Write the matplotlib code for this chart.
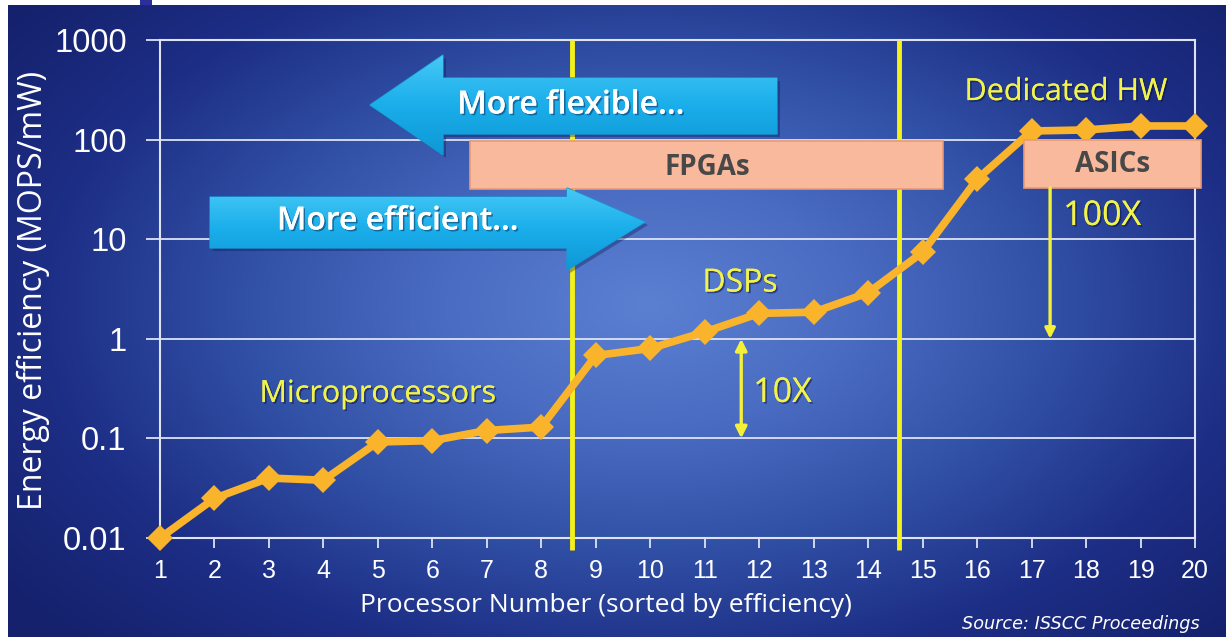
import numpy as np
import matplotlib
matplotlib.use("Agg")
import matplotlib.pyplot as plt
from matplotlib.patches import Polygon, Rectangle, FancyArrowPatch
from matplotlib.colors import LinearSegmentedColormap
import matplotlib.patheffects as pe

# ---- data -------------------------------------------------------------
processor_number = list(range(1, 21))
efficiency = [0.010, 0.025, 0.040, 0.038, 0.092, 0.095, 0.12, 0.13,
              0.68, 0.80, 1.17, 1.80, 1.85, 2.9, 7.4, 40, 122, 125, 137, 137]
y_ticks = [0.01, 0.1, 1, 10, 100, 1000]
y_tick_labels = ["0.01", "0.1", "1", "10", "100", "1000"]
class_boundaries = [8.56, 14.56]

W, H = 1226, 637
fig = plt.figure(figsize=(W / 100, H / 100), dpi=100, facecolor="white")

# ---- slide background: radial blue gradient ----------------------------
bg = fig.add_axes([8 / W, 0, 1 - 8 / W, 1 - 5 / H], zorder=0)
gx, gy = np.meshgrid(np.linspace(0, W - 8, 400), np.linspace(0, H - 5, 220))
r = np.sqrt(((gx - 640) / 700) ** 2 + ((gy - 300) / 420) ** 2)
bg_cmap = LinearSegmentedColormap.from_list(
    "slide", ["#5b80d2", "#4a6cc2", "#3151a6", "#1d2e86", "#15216c"])
bg.imshow(np.clip(r, 0, 1.15), cmap=bg_cmap, aspect="auto",
          extent=[0, 1, 0, 1], origin="upper", interpolation="bicubic")
bg.set_xlim(0, 1)
bg.set_ylim(0, 1)
bg.axis("off")

# ---- main chart --------------------------------------------------------
ax = fig.add_axes([160 / W, 1 - 538 / H, (1195 - 160) / W, (538 - 40) / H], zorder=2)
ax.set_facecolor("none")
ax.set_yscale("log")
ax.set_xlim(1, 20)
ax.set_ylim(0.01, 1000)

grid_col = "#dde3f3"
for v in y_ticks[1:-1]:
    ax.axhline(v, color=grid_col, lw=1.3, zorder=1)
for s in ax.spines.values():
    s.set_color(grid_col)
    s.set_linewidth(1.5)

ax.set_xticks(processor_number)
ax.set_xticklabels([str(p) for p in processor_number])
ax.set_yticks(y_ticks)
ax.set_yticklabels(y_tick_labels)
ax.minorticks_off()
ax.tick_params(axis="y", colors=grid_col, length=10, width=1.3, pad=14,
               labelsize=23.5, labelcolor="white")
ax.tick_params(axis="x", colors=grid_col, length=7, width=1.3, pad=8,
               labelsize=18, labelcolor="white")
for lab in ax.get_xticklabels() + ax.get_yticklabels():
    lab.set_fontfamily("Liberation Sans")

clear = "Open Sans"
ax.set_xlabel("Processor Number (sorted by efficiency)", family=clear,
              fontsize=19, color="white", va="center")
ax.xaxis.set_label_coords((606 - 160) / 1035, -(605 - 538) / 498)
ax.set_ylabel("Energy efficiency (MOPS/mW)", family=clear,
              fontsize=23, color="white", va="center")
ax.yaxis.set_label_coords((33 - 160) / 1035, (538 - 290) / 498)

# class boundaries
for xb in class_boundaries:
    ax.plot([xb, xb], [0.0076, 1000], color="#f4f01a", lw=3.5,
            zorder=3, clip_on=False, solid_capstyle="butt")

# efficiency curve
ax.plot(processor_number, efficiency, color="#f9b42b", lw=5.5,
        marker="D", markersize=13, markeredgewidth=0, zorder=5,
        clip_on=False)

# architecture boxes
box_fc, box_ec = "#f9b99c", "#e99a74"
ax.add_patch(Rectangle((6.69, 31.9), 15.37 - 6.69, 96.8 - 31.9,
                       facecolor=box_fc, edgecolor=box_ec, lw=1.2,
                       zorder=6, clip_on=False))
ax.add_patch(Rectangle((16.86, 32.7), 20.11 - 16.86, 100 - 32.7,
                       facecolor=box_fc, edgecolor=box_ec, lw=1.2,
                       zorder=6, clip_on=False))
ax.text(11.04, 53, "FPGAs", family=clear, weight="bold", fontsize=20,
        color="#484848", ha="center", va="center", zorder=7)
ax.text(18.48, 55.6, "ASICs", family=clear, weight="bold", fontsize=20,
        color="#484848", ha="center", va="center", zorder=7, clip_on=False)

# yellow labels
shadow = [pe.withSimplePatchShadow(offset=(1.2, -1.2), shadow_rgbFace="#0c1440",
                                   alpha=0.55), pe.Normal()]
ylw = "#f1f24c"
ax.text(5.0, 0.279, "Microprocessors", family=clear, fontsize=22, color=ylw,
        ha="center", va="center", zorder=7, path_effects=shadow)
ax.text(11.65, 3.63, "DSPs", family=clear, fontsize=23, color=ylw,
        ha="center", va="center", zorder=7, path_effects=shadow)
ax.text(17.63, 300, "Dedicated HW", family=clear, fontsize=22, color=ylw,
        ha="center", va="center", zorder=7, path_effects=shadow)
ax.text(11.89, 0.286, "10X", family=clear, fontsize=24.5, color=ylw,
        ha="left", va="center", zorder=7, path_effects=shadow)
ax.text(17.58, 17.1, "100X", family=clear, fontsize=24.5, color=ylw,
        ha="left", va="center", zorder=7, path_effects=shadow)

# improvement arrows
arrow_col = "#f4f03a"
ax.add_patch(FancyArrowPatch((11.67, 1.0), (11.67, 0.1), arrowstyle="<|-|>",
                             mutation_scale=17, color=arrow_col, lw=2.4,
                             shrinkA=0, shrinkB=0, zorder=6))
ax.add_patch(FancyArrowPatch((17.34, 32.7), (17.34, 1.0), arrowstyle="-|>",
                             mutation_scale=15, color=arrow_col, lw=2.4,
                             shrinkA=0, shrinkB=0, zorder=6))

# ---- overlay: flexibility / efficiency arrows --------------------------
ov = fig.add_axes([0, 0, 1, 1], zorder=3)
ov.set_xlim(0, W)
ov.set_ylim(H, 0)
ov.axis("off")
ov.set_facecolor("none")

flex_pts = [(370, 105), (443, 55), (443, 78), (777, 78), (777, 134),
            (443, 134), (443, 155)]
eff_pts = [(210, 197), (567, 197), (567, 188), (645, 222), (567, 270),
           (567, 248), (210, 248)]
grad = np.linspace(0, 1, 100).reshape(-1, 1)
cyan = LinearSegmentedColormap.from_list("cyan", ["#46c8f6", "#1aaeea", "#0f98d6"])
for pts, label, cx, cy in [(flex_pts, "More flexible...", 571, 105),
                           (eff_pts, "More efficient...", 398, 221)]:
    sh = Polygon([(x + 3, y + 3) for x, y in pts], closed=True,
                 facecolor="#0a1650", alpha=0.35, edgecolor="none", zorder=1)
    ov.add_patch(sh)
    poly = Polygon(pts, closed=True, facecolor="#1aaeea",
                   edgecolor="#1598d2", lw=1, zorder=2)
    ov.add_patch(poly)
    xs = [p[0] for p in pts]
    ys = [p[1] for p in pts]
    im = ov.imshow(grad, cmap=cyan, aspect="auto", zorder=2.5,
                   extent=[min(xs), max(xs), max(ys), min(ys)], origin="upper")
    im.set_clip_path(poly)
    ov.text(cx, cy, label, family=clear, weight="semibold", fontsize=23,
            color="white", ha="center", va="center", zorder=3,
            path_effects=[pe.withSimplePatchShadow(offset=(1.2, -1.2),
                                                   shadow_rgbFace="#0a3d70",
                                                   alpha=0.6), pe.Normal()])
ov.set_xlim(0, W)
ov.set_ylim(H, 0)

ov.text(1200, 624, "Source: ISSCC Proceedings", family="DejaVu Sans",
        style="italic", fontsize=12.7, color="white", ha="right", va="center")
ov.add_patch(Rectangle((140, 0), 12, 5, facecolor="#2a2f9a", edgecolor="none"))

fig.savefig("out.png", dpi=100, facecolor="white")
